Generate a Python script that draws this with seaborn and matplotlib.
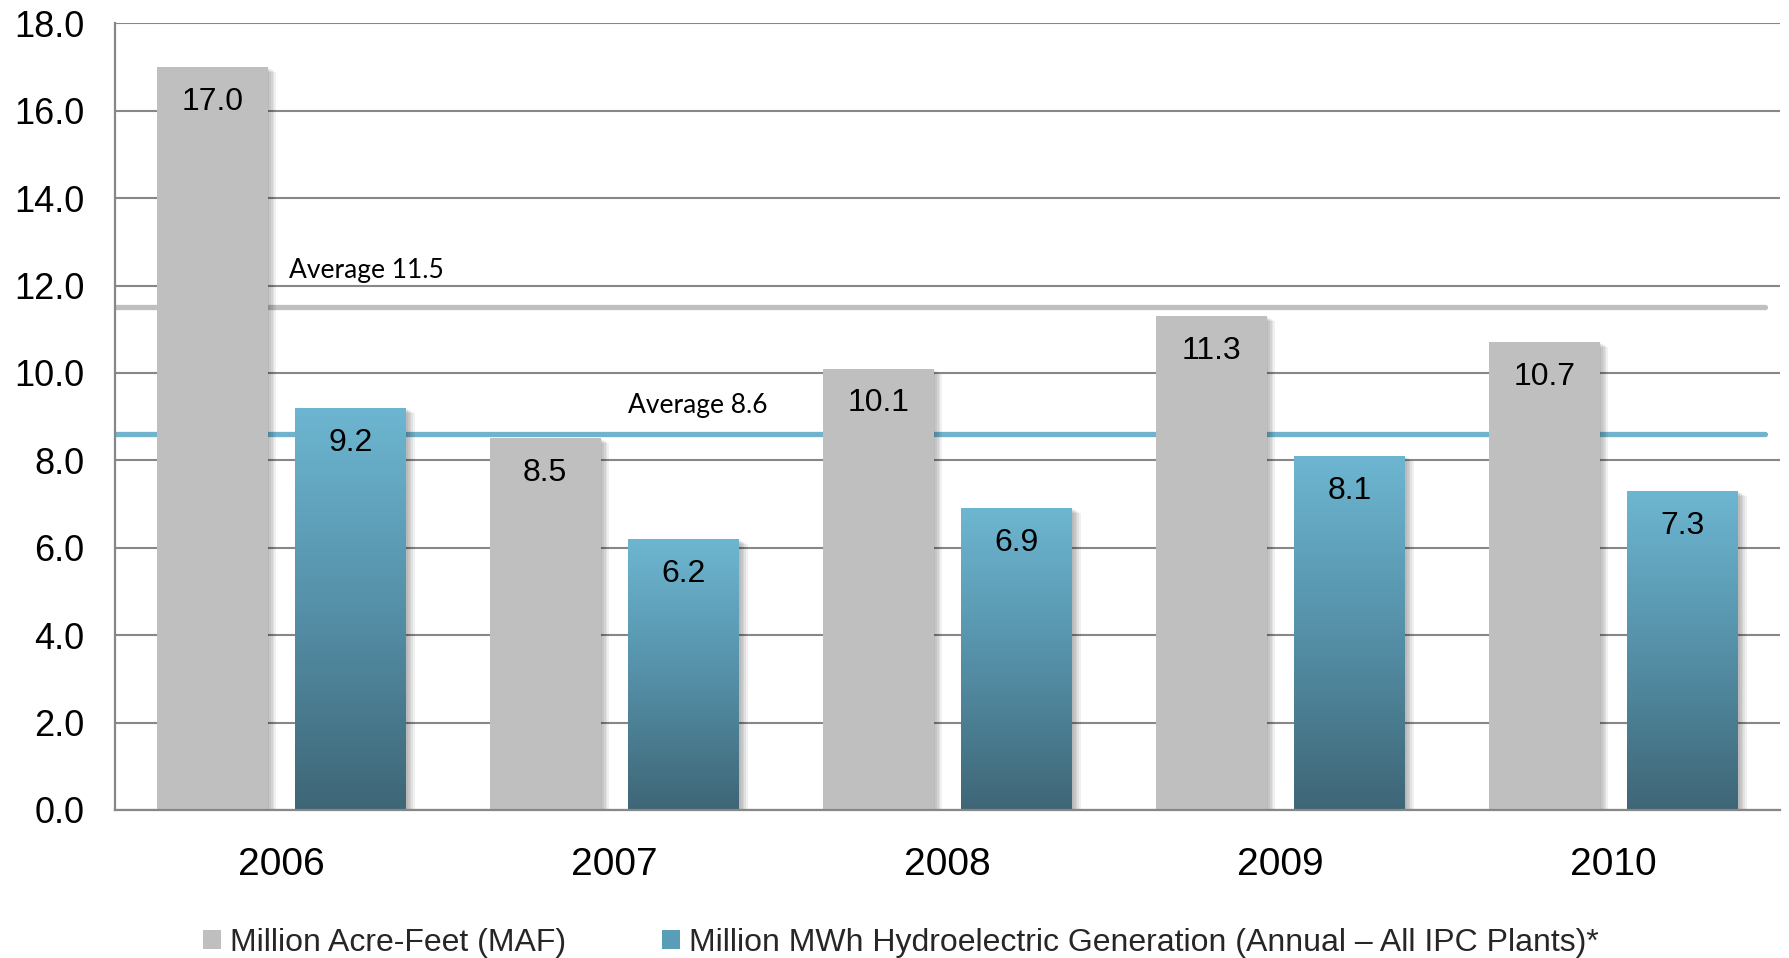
import numpy as np
import pandas as pd
import matplotlib
matplotlib.use("Agg")
import matplotlib.pyplot as plt
import matplotlib.patheffects as pe
from matplotlib.colors import LinearSegmentedColormap
from matplotlib.patches import Patch
import seaborn as sns

# ---- data ----
years = ["2006", "2007", "2008", "2009", "2010"]
maf_values = [17.0, 8.5, 10.1, 11.3, 10.7]
mwh_values = [9.2, 6.2, 6.9, 8.1, 7.3]
series_names = ["Million Acre-Feet (MAF)",
                "Million MWh Hydroelectric Generation (Annual \u2013 All IPC Plants)*"]
avg_maf = 11.5
avg_mwh = 8.6
y_ticks = [0, 2, 4, 6, 8, 10, 12, 14, 16, 18]

GREY = "#BFBFBF"
BLUE_TOP = "#6DB6D1"
BLUE_BOTTOM = "#3E6676"
BLUE_MID = "#5A9DB7"
AVG_BLUE = "#71B3CC"
GRID = "#878787"

df = pd.DataFrame({
    "year": years * 2,
    "value": maf_values + mwh_values,
    "series": [series_names[0]] * len(years) + [series_names[1]] * len(years),
})

sns.set_theme(style="white")
plt.rcParams["font.family"] = ["Liberation Sans", "DejaVu Sans"]

fig = plt.figure(figsize=(17.89, 9.58), dpi=100)
ax = fig.add_axes([0.0643, 0.1545, 0.9307, 0.8212])

sns.barplot(data=df, x="year", y="value", hue="series", order=years,
            hue_order=series_names, palette=[GREY, BLUE_MID],
            width=0.833, gap=0.2, dodge=True, errorbar=None,
            saturation=1, ax=ax, legend=False)

ax.set_ylim(0, 18)
ax.set_xlim(-0.5, len(years) - 0.5)

# soft drop shadow built from a few stacked offsets
shadow = [pe.SimplePatchShadow(offset=(d, -0.6 * d), shadow_rgbFace="black", alpha=0.06)
          for d in (1.2, 2.4, 3.6, 4.8, 6.0)] + [pe.Normal()]

bars = [p for p in ax.patches if p.get_height() > 0]
n = len(years)
maf_bars = bars[:n]
mwh_bars = bars[n:]

for p in bars:
    p.set_zorder(2)
    p.set_edgecolor("none")
    p.set_path_effects(shadow)

# vertical gradient on the generation bars
cmap = LinearSegmentedColormap.from_list("hydro", [BLUE_BOTTOM, "#5590A8", BLUE_TOP])
grad = np.linspace(0, 1, 256).reshape(-1, 1)
for p in mwh_bars:
    x0, w, h = p.get_x(), p.get_width(), p.get_height()
    im = ax.imshow(grad, extent=[x0, x0 + w, 0, h], origin="lower",
                   aspect="auto", cmap=cmap, zorder=2.1, interpolation="bicubic")
    im.set_clip_path(p)

ax.set_ylim(0, 18)
ax.set_xlim(-0.5, len(years) - 0.5)

# value labels inside the bar tops
for p in bars:
    h = p.get_height()
    ax.annotate(f"{h:.1f}", xy=(p.get_x() + p.get_width() / 2, h),
                xytext=(0, -25), textcoords="offset points",
                ha="center", va="center", fontsize=23, color="black", zorder=5)

# average lines
ax.axhline(avg_maf, xmin=0, xmax=0.991, color=GREY, lw=3.8, zorder=1.5)
ax.axhline(avg_mwh, xmin=0, xmax=0.991, color=AVG_BLUE, lw=3.8, zorder=1.5)
ax.text(0.0225, 12.17, f"Average {avg_maf:.1f}", fontsize=19,
        family=["Lato", "DejaVu Sans"], va="baseline", ha="left", color="black")
ax.text(1.0405, 9.08, f"Average {avg_mwh:.1f}", fontsize=19,
        family=["Lato", "DejaVu Sans"], va="baseline", ha="left", color="black")

# axes styling
ax.set_yticks(y_ticks)
ax.set_yticklabels([f"{t:.1f}" for t in y_ticks])
ax.yaxis.grid(True, color=GRID, lw=1.5)
ax.xaxis.grid(False)
ax.set_axisbelow(True)
ax.tick_params(axis="y", length=0, pad=22, labelsize=26, labelcolor="black")
ax.tick_params(axis="x", length=0, pad=27, labelsize=28, labelcolor="black")
ax.set_xlabel("")
ax.set_ylabel("")
for side in ("top", "right"):
    ax.spines[side].set_visible(False)
for side in ("left", "bottom"):
    ax.spines[side].set_color(GRID)
    ax.spines[side].set_linewidth(1.6)
ax.set_facecolor("white")

handles = [Patch(facecolor=GREY, edgecolor="none"),
           Patch(facecolor=BLUE_MID, edgecolor="none")]
fig.legend(handles, series_names, loc="center", bbox_to_anchor=(0.5036, 0.0157),
           ncol=2, frameon=False, fontsize=23, handlelength=0.55, handleheight=0.55,
           handletextpad=0.3, columnspacing=3.0)

fig.savefig("out.png", dpi=100, facecolor="white")
